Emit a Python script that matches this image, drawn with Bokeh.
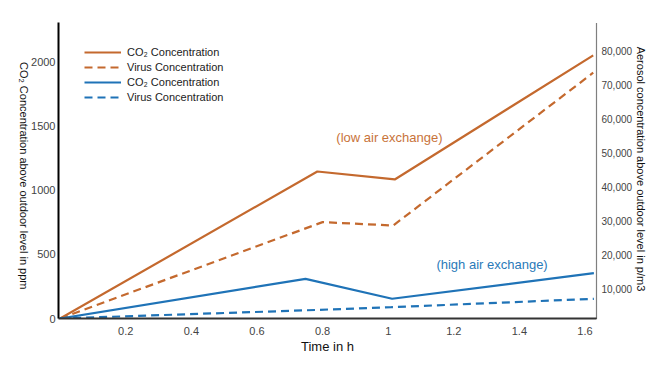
import math
from bokeh.plotting import figure
from bokeh.models import (Range1d, LinearAxis, FixedTicker, NumeralTickFormatter,
                          Legend, LegendItem, Label)
from bokeh.embed import file_html
from bokeh.resources import INLINE

# ---- data ----
time_co2_low = [0.0, 0.784, 1.02, 1.625]
co2_low = [0, 1148, 1086, 2055]
time_virus_low = [0.0, 0.80, 1.015, 1.625]
virus_low = [1300, 29600, 28600, 73500]
time_co2_high = [0.0, 0.748, 1.012, 1.627]
co2_high = [0, 310, 154, 354]
time_virus_high = [0.0, 0.75, 1.01, 1.627]
virus_high = [1300, 3700, 4610, 7080]

x_ticks = [0.2, 0.4, 0.6, 0.8, 1.0, 1.2, 1.4, 1.6]
left_ticks = [0, 500, 1000, 1500, 2000]
right_ticks = [10000, 20000, 30000, 40000, 50000, 60000, 70000, 80000]

legend_labels = ["CO\u2082 Concentration", "Virus Concentration",
                 "CO\u2082 Concentration", "Virus Concentration"]
left_title = "CO\u2082 Concentration above  outdoor level in ppm"
right_title = "Aerosol concentration above  outdoor level in p/m3"
x_title = "Time in h"

ORANGE = "#C4692E"
BLUE = "#1F73B7"
FONT = "Liberation Sans"

p = figure(width=655, height=362, output_backend="svg", toolbar_location=None,
           x_range=Range1d(-0.005, 1.635), y_range=Range1d(0, 2312),
           min_border_left=58, min_border_right=59, min_border_top=22,
           min_border_bottom=44)
p.extra_y_ranges = {"right": Range1d(1290, 88250)}
p.outline_line_color = None
p.xgrid.visible = False
p.ygrid.visible = False
p.background_fill_color = "white"


def no_ticks(ax):
    ax.major_tick_line_color = None
    ax.minor_tick_line_color = None
    ax.major_tick_out = 0
    ax.major_tick_in = 0
    ax.minor_tick_out = 0
    ax.minor_tick_in = 0


# axes
xa = p.xaxis[0]
xa.ticker = FixedTicker(ticks=x_ticks)
xa.axis_label = x_title
xa.axis_label_text_font = FONT
xa.axis_label_text_font_size = "13px"
xa.axis_label_text_font_style = "normal"
xa.axis_label_text_color = "#111111"
xa.axis_label_standoff = 1
xa.major_label_text_font = FONT
xa.major_label_text_font_size = "11px"
xa.major_label_text_color = "#444444"
xa.major_label_standoff = 8
xa.axis_line_color = "#333333"
xa.axis_line_width = 2
no_ticks(xa)

ya = p.yaxis[0]
ya.ticker = FixedTicker(ticks=left_ticks)
ya.major_label_text_font = FONT
ya.major_label_text_font_size = "11px"
ya.major_label_text_color = "#444444"
ya.major_label_standoff = 3
ya.axis_line_color = "black"
ya.axis_line_width = 2
no_ticks(ya)

# left title, reading top to bottom: carried by an outer, line-less axis
title_end = 203
ta = LinearAxis(ticker=FixedTicker(ticks=[title_end]),
                major_label_overrides={title_end: left_title},
                major_label_orientation=-math.pi / 2)
ta.major_label_text_font = FONT
ta.major_label_text_font_size = "11px"
ta.major_label_text_color = "#111111"
ta.major_label_standoff = 5
ta.axis_line_color = None
no_ticks(ta)
p.add_layout(ta, "left")

ra = LinearAxis(y_range_name="right")
ra.ticker = FixedTicker(ticks=right_ticks)
ra.formatter = NumeralTickFormatter(format="0,0")
ra.axis_label = right_title
ra.axis_label_text_font = FONT
ra.axis_label_text_font_size = "11px"
ra.axis_label_text_font_style = "normal"
ra.axis_label_text_color = "#111111"
ra.axis_label_standoff = 0
ra.major_label_text_font = FONT
ra.major_label_text_font_size = "10px"
ra.major_label_text_color = "#444444"
ra.major_label_standoff = 5
ra.axis_line_color = "black"
ra.axis_line_width = 1.2
ra.axis_line_dash = "1 1"
no_ticks(ra)
p.add_layout(ra, "right")

# lines
r1 = p.line(time_co2_low, co2_low, line_color=ORANGE, line_width=2.2)
r2 = p.line(time_virus_low, virus_low, line_color=ORANGE, line_width=2.2,
            line_dash="8 5", y_range_name="right")
r3 = p.line(time_co2_high, co2_high, line_color=BLUE, line_width=2.2)
r4 = p.line(time_virus_high, virus_high, line_color=BLUE, line_width=2.2,
            line_dash="8 5", y_range_name="right")

items = [LegendItem(label=lab, renderers=[r]) for lab, r in
         zip(legend_labels, [r1, r2, r3, r4])]
legend = Legend(items=items, location=(26, 214))
legend.border_line_color = None
legend.background_fill_alpha = 0
legend.padding = 0
legend.margin = 0
legend.spacing = 1
legend.label_height = 14
legend.glyph_height = 14
legend.glyph_width = 37
legend.label_standoff = 6
legend.label_text_font = FONT
legend.label_text_font_size = "11px"
legend.label_text_color = "#222222"
p.add_layout(legend)

p.add_layout(Label(x=0.842, y=1414, text="(low air exchange)", text_color="#C8733A",
                   text_font=FONT, text_font_size="13px", text_baseline="middle",
                   text_align="left"))
p.add_layout(Label(x=1.147, y=422, text="(high air exchange)", text_color="#2A7AB9",
                   text_font=FONT, text_font_size="13px", text_baseline="middle",
                   text_align="left"))

open("out.html", "w").write(file_html(p, INLINE))
